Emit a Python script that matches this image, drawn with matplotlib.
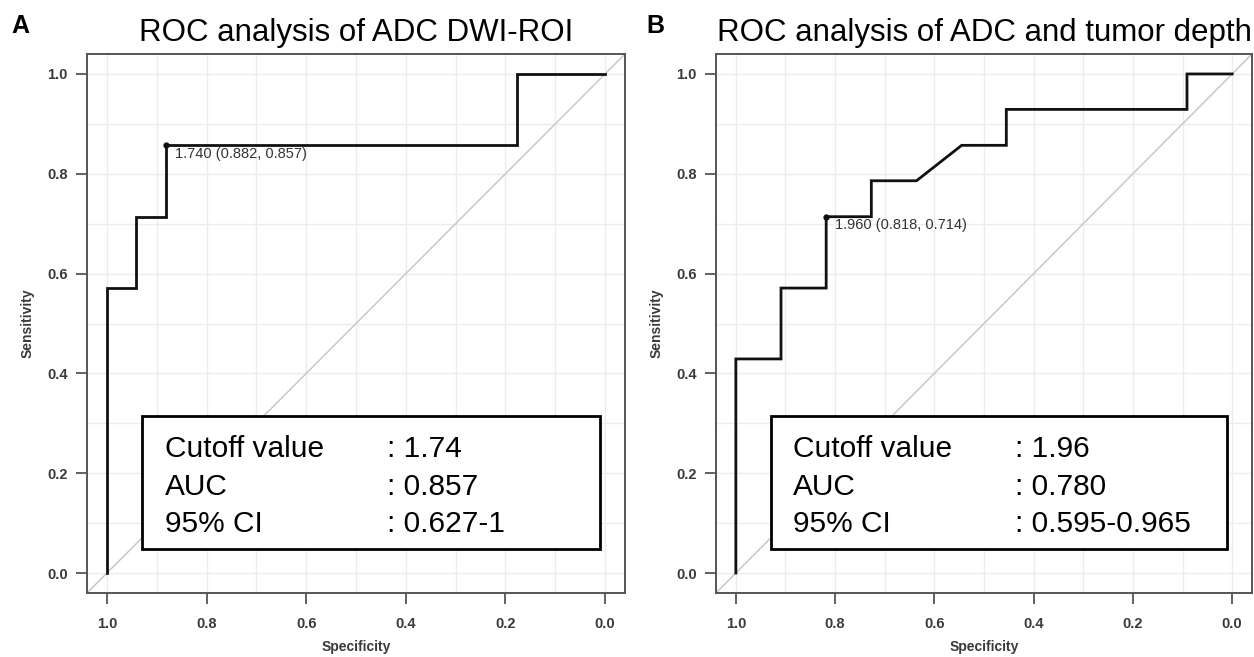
import matplotlib
matplotlib.use("Agg")
import matplotlib.pyplot as plt
import numpy as np

plt.rcParams['font.family'] = ['Liberation Sans', 'DejaVu Sans']

# Panel A data
a_spec = [1.0, 1.0, 0.941, 0.941, 0.882, 0.882, 0.176, 0.176, 0.0]
a_sens = [0.0, 0.571, 0.571, 0.714, 0.714, 0.857, 0.857, 1.0, 1.0]
a_best = (0.882, 0.857)
a_best_label = "1.740 (0.882, 0.857)"
a_title = "ROC analysis of ADC DWI-ROI"
a_box = [("Cutoff value", ": 1.74"), ("AUC", ": 0.857"), ("95% CI", ": 0.627-1")]

# Panel B data
b_spec = [1.0, 1.0, 0.909, 0.909, 0.818, 0.818, 0.727, 0.727, 0.636, 0.545,
          0.455, 0.455, 0.091, 0.091, 0.0]
b_sens = [0.0, 0.429, 0.429, 0.571, 0.571, 0.714, 0.714, 0.786, 0.786, 0.857,
          0.857, 0.929, 0.929, 1.0, 1.0]
b_best = (0.818, 0.714)
b_best_label = "1.960 (0.818, 0.714)"
b_title = "ROC analysis of ADC and tumor depth"
b_box = [("Cutoff value", ": 1.96"), ("AUC", ": 0.780"), ("95% CI", ": 0.595-0.965")]

ticks = [0.0, 0.2, 0.4, 0.6, 0.8, 1.0]
tick_labels = ["0.0", "0.2", "0.4", "0.6", "0.8", "1.0"]

W, H = 1254, 657
fig = plt.figure(figsize=(W / 100, H / 100), dpi=100)

axis_col = '#555555'
label_col = '#3a3a3a'


def panel(rect, spec, sens, best, best_label, title, box, letter, letter_x):
    ax = fig.add_axes(rect)
    ax.set_xlim(1.04, -0.04)
    ax.set_ylim(-0.04, 1.04)
    # grid
    for g in np.arange(0, 1.01, 0.1):
        ax.axvline(g, color='#ececec', lw=1.0, zorder=0)
        ax.axhline(g, color='#ececec', lw=1.0, zorder=0)
    # diagonal reference
    ax.plot([1.04, -0.04], [-0.04, 1.04], color='#c8c8c8', lw=1.1, zorder=1)
    # ROC curve
    ax.plot(spec, sens, color='#111111', lw=2.0, zorder=3, solid_joinstyle='miter')
    ax.plot([best[0]], [best[1]], 'o', color='#111111', ms=3.5, zorder=4)
    ax.text(best[0] - 0.018, best[1] - 0.003, best_label, fontsize=10.5,
            color='#333333', ha='left', va='top', zorder=4)
    # text box
    ax.add_patch(plt.Rectangle((0.010, 0.048), 0.920, 0.266, fill=True,
                               facecolor='white', edgecolor='black', lw=2.0,
                               zorder=5))
    ys = [0.232, 0.156, 0.082]
    for (k, v), y in zip(box, ys):
        ax.text(0.884, y, k, fontsize=21.5, ha='left', va='baseline',
                color='black', zorder=6)
        ax.text(0.437, y, v, fontsize=21.5, ha='left', va='baseline',
                color='black', zorder=6)
    ax.set_xticks(ticks)
    ax.set_xticklabels(tick_labels)
    ax.set_yticks(ticks)
    ax.set_yticklabels(tick_labels)
    ax.tick_params(axis='both', length=8, width=1.3, color=axis_col,
                   labelsize=10.5, labelcolor=label_col)
    ax.tick_params(axis='x', pad=9)
    ax.tick_params(axis='y', pad=6)
    for lab in ax.get_xticklabels() + ax.get_yticklabels():
        lab.set_fontweight('bold')
    for s in ax.spines.values():
        s.set_color(axis_col)
        s.set_linewidth(1.4)
    ax.set_xlabel("Specificity", fontsize=10, color=label_col,
                  fontweight='bold', labelpad=7)
    ax.set_ylabel("Sensitivity", fontsize=10, color=label_col,
                  fontweight='bold', labelpad=9)
    ax.set_title(title, fontsize=22.5, color='black', pad=9)
    fig.text(letter_x / W, 1 - 33 / H, letter, fontsize=18, fontweight='bold',
             ha='left', va='baseline')
    return ax


panel([87 / W, 1 - 593 / H, 538 / W, 539 / H], a_spec, a_sens, a_best,
      a_best_label, a_title, a_box, "A", 11)
panel([716 / W, 1 - 593 / H, 536 / W, 539 / H], b_spec, b_sens, b_best,
      b_best_label, b_title, b_box, "B", 646)

fig.savefig("out.png", dpi=100)
